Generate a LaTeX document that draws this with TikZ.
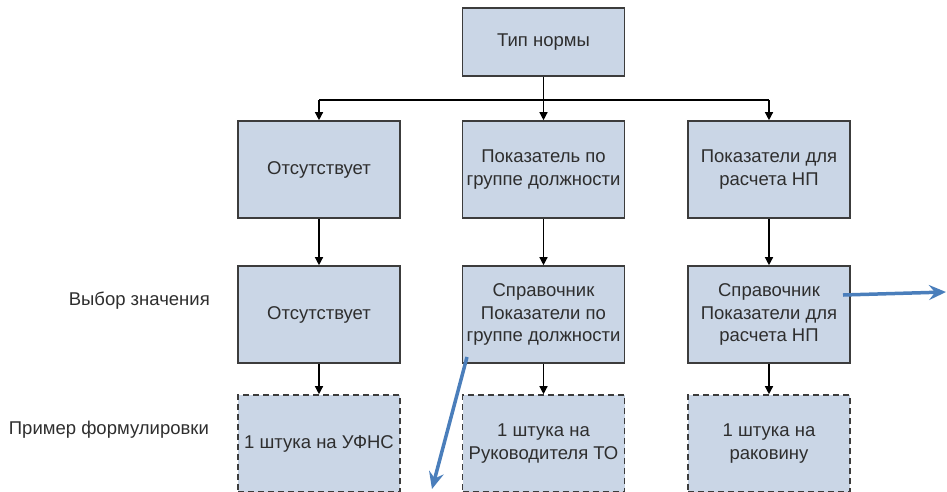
\documentclass[tikz,border=0pt]{standalone}
\usepackage{fontspec}
\setmainfont{Liberation Sans}
\usetikzlibrary{arrows.meta}
\definecolor{boxfill}{HTML}{CAD6E6}
\definecolor{boxline}{HTML}{3C3C3C}
\definecolor{txt}{HTML}{2E2E2E}
\definecolor{blu}{HTML}{4A7EBB}
\begin{document}
\begin{tikzpicture}[x=1pt,y=-1pt,
  box/.style={draw=boxline,line width=1.6pt,fill=boxfill,rectangle,
    minimum width=162pt,minimum height=97pt,align=center,text=txt,
    font=\fontsize{18.5}{22.5}\selectfont,inner sep=2pt},
  dbox/.style={box,dash pattern=on 6pt off 4pt},
  lbl/.style={anchor=east,text=txt,font=\fontsize{18.5}{22.5}\selectfont,inner sep=0pt},
  conn/.style={line width=1.3pt,-{Triangle[length=8pt,width=8pt]}},
  bus/.style={line width=1.3pt},
  blue/.style={draw=blu,line width=3.5pt,-{Stealth[length=17pt,width=15pt,inset=6pt]}}]
\useasboundingbox (0,0) rectangle (947,491);
\begin{scope}
\clip (0,0) rectangle (947,491);
\node[box,minimum height=68pt] (top) at (543.5,42) {Тип нормы};
\node[box] (a1) at (319,169.5) {Отсутствует};
\node[box] (b1) at (543.5,169.5) {Показатель по\\группе должности};
\node[box] (c1) at (769,169.5) {Показатели для\\расчета НП};
\node[box] (a2) at (319,314.5) {Отсутствует};
\node[box] (b2) at (543.5,314.5) {Справочник\\Показатели по\\группе должности};
\node[box] (c2) at (769,314.5) {Справочник\\Показатели для\\расчета НП};
\node[dbox] (a3) at (319,443.5) {1 штука на УФНС};
\node[dbox] (b3) at (543.5,443.5) {1 штука на\\Руководителя ТО};
\node[dbox] (c3) at (769,443.5) {1 штука на\\раковину};
\end{scope}
\node[lbl] (l1) at (210,301) {Выбор значения};
\node[lbl] (l2) at (209,430) {Пример формулировки};
\coordinate (hub) at (543.5,100);
\draw[bus] (top.south) -- (hub);
\draw[bus] (hub -| a1.north) -- (hub -| c1.north);
\draw[conn] (hub -| a1.north) -- (a1.north);
\draw[conn] (hub) -- (b1.north);
\draw[conn] (hub -| c1.north) -- (c1.north);
\draw[conn] (a1.south) -- (a2.north);
\draw[conn] (b1.south) -- (b2.north);
\draw[conn] (c1.south) -- (c2.north);
\draw[conn] (a2.south) -- (a3.north);
\draw[conn] (b2.south) -- (b3.north);
\draw[conn] (c2.south) -- (c3.north);
\coordinate (bl1) at (467,357);
\coordinate (bl2) at (432,489);
\coordinate (br1) at (843,295);
\coordinate (br2) at (946,292);
\draw[blue] (bl1) -- (bl2);
\draw[blue] (br1) -- (br2);
\end{tikzpicture}
\end{document}
